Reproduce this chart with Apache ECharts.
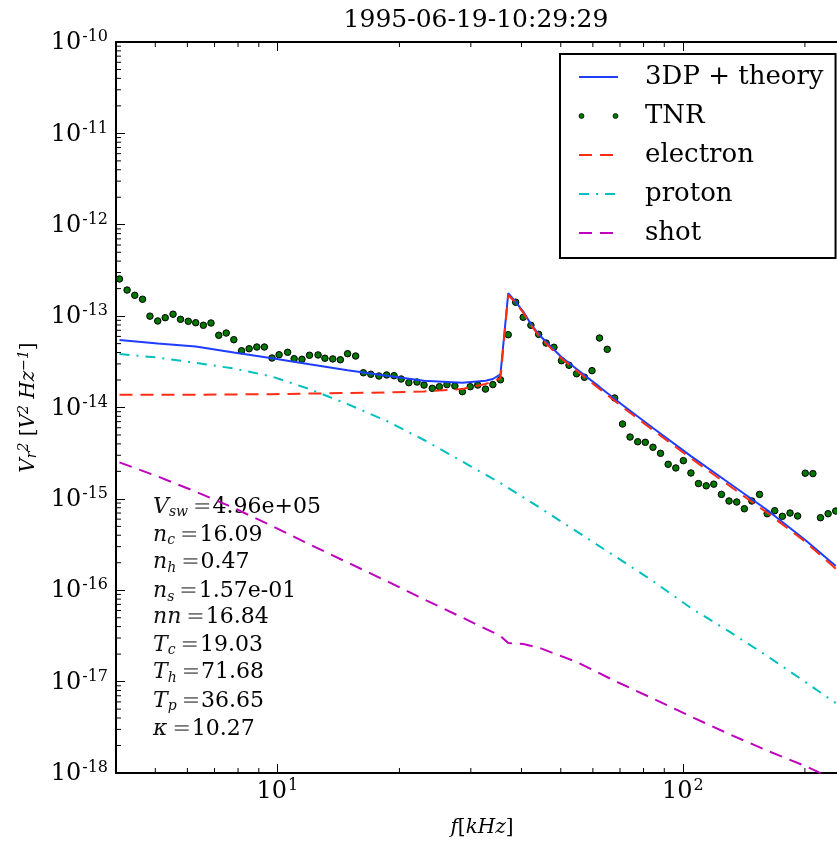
<!DOCTYPE html>
<html>
<head>
<meta charset="utf-8">
<title>TNR spectrum</title>
<script src="https://cdn.jsdelivr.net/npm/echarts@6.0.0/dist/echarts.min.js"></script>
<style>
  html, body { margin: 0; padding: 0; background: #fff; }
  #chart { width: 837px; height: 843px; }
</style>
</head>
<body>
<div id="chart"></div>
<script>
// 测量频率 (kHz) 与功率谱 (V^2/Hz)
const tnrFreq = [4.08, 4.26, 4.45, 4.65, 4.85, 5.07, 5.29, 5.53, 5.77, 6.03,
  6.29, 6.57, 6.86, 7.17, 7.48, 7.81, 8.16, 8.52, 8.90, 9.29,
  9.70, 10.1, 10.6, 11.0, 11.5, 12.0, 12.6, 13.1, 13.7, 14.3,
  14.9, 15.6, 16.3, 17.0, 17.8, 18.6, 19.4, 20.2, 21.1, 22.1,
  23.0, 24.1, 25.1, 26.2, 27.4, 28.6, 29.9, 31.2, 32.6, 34.0,
  35.5, 37.1, 38.7, 40.4, 42.2, 44.1, 46.0, 48.1, 50.2, 52.4,
  54.7, 57.2, 59.7, 62.3, 65.1, 67.9, 71.0, 74.1, 77.4, 80.8,
  84.4, 88.1, 92.0, 96.1, 100.3, 104.7, 109.3, 114.2, 119.2, 124.5,
  130.0, 135.8, 141.8, 148.0, 154.6, 161.4, 168.5, 176.0, 183.8, 191.9,
  200.4, 209.3, 218.5, 228.2, 238.3];
const tnrPower = [2.55e-13, 1.93e-13, 1.69e-13, 1.53e-13, 1.00e-13, 8.85e-14, 9.61e-14, 1.05e-13, 9.23e-14, 8.78e-14,
  8.47e-14, 7.94e-14, 8.41e-14, 6.17e-14, 6.53e-14, 5.52e-14, 4.18e-14, 4.40e-14, 4.59e-14, 4.59e-14,
  3.48e-14, 3.78e-14, 4.02e-14, 3.42e-14, 3.37e-14, 3.73e-14, 3.76e-14, 3.46e-14, 3.40e-14, 3.33e-14,
  3.88e-14, 3.66e-14, 2.40e-14, 2.31e-14, 2.21e-14, 2.27e-14, 2.23e-14, 2.05e-14, 1.87e-14, 1.90e-14,
  1.76e-14, 1.62e-14, 1.69e-14, 1.78e-14, 1.72e-14, 1.49e-14, 1.69e-14, 1.76e-14, 1.59e-14, 1.78e-14,
  2.01e-14, 6.26e-14, 1.42e-13, 9.71e-14, 7.94e-14, 6.32e-14, 5.08e-14, 4.56e-14, 3.25e-14, 2.90e-14,
  2.34e-14, 2.14e-14, 2.53e-14, 5.76e-14, 4.33e-14, 1.27e-14, 6.60e-15, 4.75e-15, 4.22e-15, 4.16e-15,
  3.67e-15, 3.15e-15, 2.39e-15, 2.18e-15, 2.62e-15, 1.92e-15, 1.47e-15, 1.39e-15, 1.45e-15, 1.12e-15,
  9.48e-16, 9.24e-16, 7.80e-16, 9.48e-16, 1.12e-15, 6.88e-16, 7.42e-16, 6.44e-16, 7.00e-16, 6.50e-16,
  1.91e-15, 1.89e-15, 6.22e-16, 6.88e-16, 7.36e-16];

// 理论曲线 (3DP + theory 与 electron 共用频率)
const theoryFreq = [4.08, 5.07, 6.29, 7.81, 9.70, 12.0, 14.9, 18.6, 23.0, 28.6,
  32.6, 34.0, 35.5, 37.1, 38.7, 40.4, 42.2, 44.1, 46.0, 50.2,
  54.7, 62.3, 71.0, 84.4, 104.7, 130.0, 161.4, 200.4, 238.3];
const theoryPower = [5.48e-14, 5.03e-14, 4.65e-14, 4.00e-14, 3.46e-14, 2.97e-14, 2.56e-14, 2.22e-14, 1.96e-14, 1.87e-14,
  1.96e-14, 2.05e-14, 2.31e-14, 1.78e-13, 1.43e-13, 1.12e-13, 8.20e-14, 6.37e-14, 5.21e-14, 3.57e-14,
  2.64e-14, 1.68e-14, 1.065e-14, 5.97e-15, 2.94e-15, 1.49e-15, 7.55e-16, 3.55e-16, 1.84e-16];
const electronPower = [1.38e-14, 1.38e-14, 1.38e-14, 1.39e-14, 1.40e-14, 1.42e-14, 1.44e-14, 1.46e-14, 1.50e-14, 1.59e-14,
  1.81e-14, 1.93e-14, 2.10e-14, 1.70e-13, 1.40e-13, 1.09e-13, 7.95e-14, 6.15e-14, 5.02e-14, 3.43e-14,
  2.53e-14, 1.60e-14, 1.01e-14, 5.65e-15, 2.78e-15, 1.40e-15, 7.05e-16, 3.40e-16, 1.72e-16];

const protonFreq = [4.08, 5.07, 6.29, 7.81, 9.70, 12.0, 14.9, 18.6, 23.0, 28.6,
  35.5, 44.1, 54.7, 67.9, 84.4, 104.7, 130.0, 161.4, 200.4, 238.3];
const protonPower = [3.85e-14, 3.52e-14, 3.08e-14, 2.67e-14, 2.18e-14, 1.59e-14, 1.09e-14, 7.12e-15, 4.41e-15, 2.56e-15,
  1.49e-15, 8.15e-16, 4.40e-16, 2.37e-16, 1.26e-16, 6.39e-17, 3.54e-17, 1.91e-17, 9.91e-18, 5.83e-18];

const shotFreq = [4.08, 5.07, 6.29, 7.81, 9.70, 12.0, 14.9, 18.6, 23.0, 28.6,
  35.5, 37.1, 40.4, 44.1, 54.7, 67.9, 84.4, 104.7, 130.0, 161.4, 200.4, 238.3];
const shotPower = [2.51e-15, 1.76e-15, 1.20e-15, 7.95e-16, 5.05e-16, 3.18e-16, 2.01e-16, 1.26e-16, 7.96e-17, 5.02e-17,
  3.16e-17, 2.65e-17, 2.58e-17, 2.36e-17, 1.64e-17, 1.02e-17, 6.53e-18, 4.15e-18, 2.67e-18, 1.76e-18, 1.19e-18, 8.38e-19];

// 拟合参数文本
const paramNames = ['V', 'n', 'n', 'n', 'nn', 'T', 'T', 'T', 'κ'];
const paramSubs = ['sw', 'c', 'h', 's', '', 'c', 'h', 'p', ''];
const paramValues = ['4.96e+05', '16.09', '0.47', '1.57e-01', '16.84', '19.03', '71.68', '36.65', '10.27'];

// 坐标轴范围与次刻度
const xRange = [4, 240];
const yRange = [1e-18, 1e-10];
const xMinorTicks = [5, 6, 7, 8, 9, 20, 30, 40, 50, 60, 70, 80, 90, 200];
const yMinorMantissa = [2, 3, 4, 5, 6, 7, 8, 9];
const yDecades = [-18, -17, -16, -15, -14, -13, -12, -11];

const SERIF = 'DejaVu Serif';
const pairs = (xs, ys) => xs.map((x, i) => [x, ys[i]]);

const yMinorData = [];
yDecades.forEach(e => yMinorMantissa.forEach(m => yMinorData.push([xRange[0], m * Math.pow(10, e)])));

// 10^n 形式的刻度标签
function powLabel(v) {
  const e = Math.round(Math.log10(v));
  return '{b|10}{sup|' + e + '}';
}
const powRich = {
  b: { fontFamily: SERIF, fontSize: 24, lineHeight: 26, verticalAlign: 'bottom', color: '#000' },
  sup: { fontFamily: SERIF, fontSize: 16, lineHeight: 16, verticalAlign: 'top', padding: [0, 0, 13, 1], color: '#000' }
};
const mathRich = {
  i: { fontFamily: SERIF, fontStyle: 'italic', fontSize: 20, lineHeight: 22, verticalAlign: 'middle', color: '#000' },
  n: { fontFamily: SERIF, fontSize: 20, lineHeight: 22, verticalAlign: 'middle', color: '#000' },
  sup: { fontFamily: SERIF, fontStyle: 'italic', fontSize: 14, lineHeight: 14, verticalAlign: 'top', color: '#000' },
  sub: { fontFamily: SERIF, fontStyle: 'italic', fontSize: 14, lineHeight: 14, verticalAlign: 'bottom', color: '#000' }
};

const tickLine = { color: '#000', width: 1 };
const axisLine = { show: true, lineStyle: { color: '#000', width: 2 } };
// 图例中线条不显示中间的圆点
const noSymbol = { opacity: 0 };

// 参数说明文字
const paramY = [505.8, 533.8, 561.7, 590, 617.8, 643.8, 671.7, 699.8, 730.5];
const paramText = paramNames.map((name, i) => {
  const hasSub = paramSubs[i] !== '';
  return {
    type: 'text',
    x: 153,
    y: paramY[i] + (hasSub ? 2 : 0),
    silent: true,
    style: {
      text: '{v|' + name + '}' + (hasSub ? '{s|' + paramSubs[i] + '}' : '') + '{eq|=}{num|' + paramValues[i] + '}',
      verticalAlign: 'middle',
      rich: {
        v: { fontFamily: SERIF, fontStyle: 'italic', fontSize: 22, lineHeight: 24, verticalAlign: 'top', fill: '#111' },
        s: { fontFamily: SERIF, fontStyle: 'italic', fontSize: 14, lineHeight: 14, padding: [14, 0, 0, 0], verticalAlign: 'bottom', fill: '#111' },
        eq: { fontFamily: SERIF, fontSize: 22, lineHeight: 24, verticalAlign: 'top', padding: [0, 1, 0, 5], fill: '#777' },
        num: { fontFamily: SERIF, fontSize: 22, lineHeight: 24, verticalAlign: 'top', fill: '#000' }
      }
    }
  };
});

const chart = echarts.init(document.getElementById('chart'), null, { renderer: 'canvas' });

const option = {
  animation: false,
  backgroundColor: '#fff',
  title: {
    text: '1995-06-19-10:29:29',
    left: 476,
    top: 8,
    padding: 0,
    textAlign: 'center',
    textStyle: { fontFamily: SERIF, fontSize: 25, fontWeight: 'normal', color: '#000' }
  },
  grid: { left: 116, top: 42, right: 0, bottom: 70, containLabel: false },
  legend: {
    orient: 'vertical',
    left: 560,
    top: 54,
    padding: [10, 12, 12, 18],
    itemWidth: 39,
    itemHeight: 14,
    itemGap: 13,
    borderColor: '#000',
    borderWidth: 2,
    borderRadius: 0,
    backgroundColor: '#fff',
    textStyle: { fontFamily: SERIF, fontSize: 26, color: '#000', padding: [0, 0, 0, 22] },
    data: [
      { name: '3DP + theory', itemStyle: noSymbol },
      {
        name: 'TNR',
        icon: 'path://M0,2.5a2.5,2.5 0 1,0 5,0a2.5,2.5 0 1,0 -5,0M34,2.5a2.5,2.5 0 1,0 5,0a2.5,2.5 0 1,0 -5,0',
        itemStyle: { borderWidth: 0.7 }
      },
      { name: 'electron', itemStyle: noSymbol },
      { name: 'proton', itemStyle: noSymbol },
      { name: 'shot', itemStyle: noSymbol }
    ]
  },
  xAxis: [
    {
      type: 'log', logBase: 10, min: xRange[0], max: xRange[1], position: 'bottom',
      axisLine: axisLine,
      axisTick: { inside: true, length: 9, lineStyle: tickLine },
      axisLabel: { formatter: powLabel, rich: powRich, margin: 5, showMinLabel: false, showMaxLabel: false },
      splitLine: { show: false },
      name: '{i|f}{n|[}{i|kHz}{n|]}',
      nameLocation: 'middle',
      nameGap: 44,
      nameTextStyle: { rich: mathRich, padding: [0, 0, 0, 11] }
    },
    {
      type: 'log', logBase: 10, min: xRange[0], max: xRange[1], position: 'top',
      axisLine: axisLine,
      axisTick: { inside: true, length: 9, lineStyle: tickLine },
      axisLabel: { show: false },
      splitLine: { show: false }
    }
  ],
  yAxis: {
    type: 'log', logBase: 10, min: yRange[0], max: yRange[1],
    axisLine: axisLine,
    axisTick: { inside: true, length: 9, lineStyle: tickLine },
    axisLabel: { formatter: powLabel, rich: powRich, margin: 8 },
    splitLine: { show: false },
    name: '{i|V}{sub|r}{sup|2}{n| [}{i|V}{sup|2}{n| }{i|Hz}{sup|−1}{n|]}',
    nameLocation: 'middle',
    nameRotate: 90,
    nameGap: 72,
    nameTextStyle: { rich: mathRich }
  },
  graphic: paramText,
  series: [
    {
      name: '3DP + theory',
      type: 'line',
      data: pairs(theoryFreq, theoryPower),
      symbol: 'none',
      lineStyle: { color: '#1f3dff', width: 2 },
      itemStyle: { color: '#1f3dff' }
    },
    {
      name: 'TNR',
      type: 'scatter',
      data: pairs(tnrFreq, tnrPower),
      symbolSize: 6.5,
      itemStyle: { color: '#007800', borderColor: '#000', borderWidth: 1, opacity: 1 }
    },
    {
      name: 'electron',
      type: 'line',
      data: pairs(theoryFreq, electronPower),
      symbol: 'none',
      lineStyle: { color: '#ff2d14', width: 2, type: [13, 8] },
      itemStyle: { color: '#ff2d14' }
    },
    {
      name: 'proton',
      type: 'line',
      data: pairs(protonFreq, protonPower),
      symbol: 'none',
      lineStyle: { color: '#00bfbf', width: 2, type: [10, 7, 2, 7] },
      itemStyle: { color: '#00bfbf' }
    },
    {
      name: 'shot',
      type: 'line',
      data: pairs(shotFreq, shotPower),
      symbol: 'none',
      lineStyle: { color: '#bf00bf', width: 2, type: [13, 8] },
      itemStyle: { color: '#bf00bf' }
    },
    {
      // x 轴上下次刻度
      type: 'custom',
      silent: true,
      clip: false,
      data: xMinorTicks.map(v => [v, yRange[0]]),
      renderItem: function (params, api) {
        const b = api.coord([api.value(0), yRange[0]]);
        const t = api.coord([api.value(0), yRange[1]]);
        return {
          type: 'group',
          children: [
            { type: 'line', shape: { x1: b[0], y1: b[1], x2: b[0], y2: b[1] - 5 }, style: { stroke: '#000', lineWidth: 1 } },
            { type: 'line', shape: { x1: t[0], y1: t[1], x2: t[0], y2: t[1] + 5 }, style: { stroke: '#000', lineWidth: 1 } }
          ]
        };
      }
    },
    {
      // y 轴次刻度
      type: 'custom',
      silent: true,
      clip: false,
      data: yMinorData,
      renderItem: function (params, api) {
        const p = api.coord([xRange[0], api.value(1)]);
        return { type: 'line', shape: { x1: p[0], y1: p[1], x2: p[0] + 5, y2: p[1] }, style: { stroke: '#000', lineWidth: 1 } };
      }
    }
  ]
};

chart.setOption(option);
</script>
</body>
</html>
